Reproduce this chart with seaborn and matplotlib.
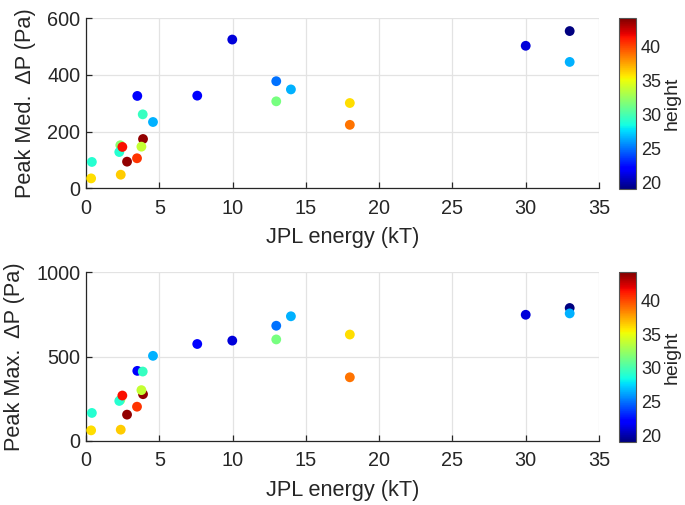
import matplotlib
matplotlib.use("Agg")
import matplotlib.pyplot as plt
import seaborn as sns
import numpy as np
import pandas as pd

# Data
energy = [0.35, 0.40, 2.37, 2.34, 2.27, 2.48, 2.80, 3.48, 3.50, 3.87, 3.89, 3.78,
          4.57, 7.59, 9.98, 12.98, 12.98, 13.98, 18.0, 18.0, 30.0, 33.0, 33.0]
peak_med = [35, 93, 48, 152, 128, 146, 94, 106, 326, 261, 174, 147,
            234, 327, 525, 378, 307, 349, 301, 224, 503, 555, 446]
peak_max = [63, 166, 67, 243, 237, 269, 156, 203, 415, 411, 277, 301,
            504, 574, 594, 682, 601, 738, 630, 377, 747, 787, 755]
height = [36.0, 29.0, 36.5, 32.0, 29.0, 41.5, 43.8, 40.5, 22.0, 29.5, 43.8, 33.8,
          26.5, 22.0, 21.0, 25.0, 31.5, 26.5, 36.0, 38.8, 21.0, 19.0, 26.5]

x_ticks = [0, 5, 10, 15, 20, 25, 30, 35]
top_yticks = [0, 200, 400, 600]
bot_yticks = [0, 500, 1000]
cbar_ticks = [20, 25, 30, 35, 40]
clim = (19.0, 44.2)

df = pd.DataFrame({"energy": energy, "med": peak_med, "max": peak_max, "height": height})

sns.set_theme(style="white")
plt.rcParams['font.family'] = ['Liberation Sans', 'DejaVu Sans']
txt = '#262626'

fig = plt.figure(figsize=(6.85, 5.05), dpi=100)
W, H = 685, 505

def fr(l, t, r, b):
    return [l / W, 1 - b / H, (r - l) / W, (b - t) / H]

ax1 = fig.add_axes(fr(86, 18.3, 599, 188.3))
ax2 = fig.add_axes(fr(86, 272, 599, 441))
cax1 = fig.add_axes(fr(619, 18.3, 635.5, 189))
cax2 = fig.add_axes(fr(619, 272, 635.5, 442))

norm = matplotlib.colors.Normalize(*clim)
cmap = plt.get_cmap('jet')

for ax, col, yt, ylab in [(ax1, "med", top_yticks, "Peak Med.  \u0394P (Pa)"),
                          (ax2, "max", bot_yticks, "Peak Max.  \u0394P (Pa)")]:
    sns.scatterplot(data=df, x="energy", y=col, hue="height", palette=cmap,
                    hue_norm=norm, legend=False, s=50, linewidth=0, ax=ax, zorder=3)
    ax.set_xlim(0, 35)
    ax.set_ylim(yt[0], yt[-1])
    ax.set_xticks(x_ticks)
    ax.set_yticks(yt)
    ax.grid(True, color='#e3e3e3', linewidth=0.9)
    ax.set_axisbelow(True)
    for s in ['top', 'right']:
        ax.spines[s].set_visible(False)
    for s in ['left', 'bottom']:
        ax.spines[s].set_color(txt)
        ax.spines[s].set_linewidth(0.9)
    ax.tick_params(direction='in', length=4, width=0.9, colors=txt, labelsize=14.3,
                   left=True, bottom=True, pad=4)
    ax.tick_params(axis='x', pad=7.5)
    ax.set_xlabel("JPL energy (kT)", fontsize=15.7, color=txt, labelpad=7)
    ax.set_ylabel(ylab, fontsize=15.7, color=txt, labelpad=8)

sm = matplotlib.cm.ScalarMappable(norm=norm, cmap=cmap)
for cax in [cax1, cax2]:
    cb = fig.colorbar(sm, cax=cax)
    cb.set_ticks(cbar_ticks)
    cb.outline.set_edgecolor('#555555')
    cb.outline.set_linewidth(0.8)
    cax.tick_params(direction='in', length=3, colors=txt, labelsize=13, pad=4)
    cb.set_label("height", fontsize=14, color=txt, labelpad=2)

fig.savefig("out.png", dpi=100)
